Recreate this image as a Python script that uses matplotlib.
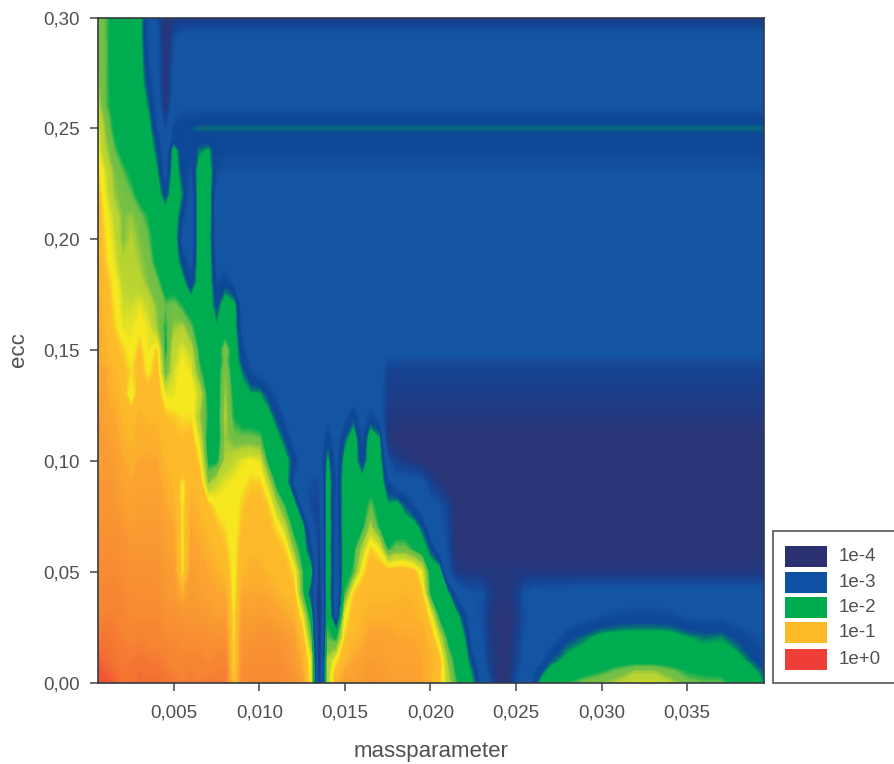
import numpy as np
import matplotlib
matplotlib.use("Agg")
import matplotlib.pyplot as plt
from matplotlib.colors import LinearSegmentedColormap
from matplotlib.patches import Rectangle

plt.rcParams['font.family'] = ['Liberation Sans', 'DejaVu Sans']

# massparameter nodes (units of 1e-3)
mass_left = [0.53, 1, 1.5, 2, 2.5, 3, 3.5, 4,
             4.5, 5, 5.5, 6, 6.5, 7, 7.5, 8,
             8.5, 9, 9.5, 10, 10.5, 11, 11.5, 12,
             12.5, 13, 13.5, 14, 14.5, 15, 15.5, 16,
             16.5, 17, 17.5, 18, 18.5, 19, 19.5, 20,
             20.5, 21, 21.5, 22]
mass_right = [22.5, 23, 23.5, 24, 24.5, 25, 25.5, 26, 26.5, 27, 28, 29, 30, 31, 32,
              33, 34, 35, 36, 37, 38, 39, 39.5]
N = len(mass_left) + len(mass_right)


def pad(prefix, fill):
    return prefix + [fill] * (N - len(prefix))


# log10 of the plotted quantity, one list per ecc row
r000 = [-.1, -.1, -.15, -.25, -.25, -.2, -.2, -.2,
        -.25, -.3, -.35, -.3, -.35, -.3, -.3, -.3,
        -1.1, -.5, -.45, -.45, -.45, -.45, -.5, -.55,
        -.7, -1.25, -3.7, -1.5, -.9, -.7, -.7, -.65,
        -.6, -.65, -.65, -.7, -.7, -.7, -.8, -.85,
        -1.05, -1.45, -1.8, -2,
        -2.25, -2.9, -3.3, -3.9, -3.9, -3.3, -3, -2.7, -2.1, -2, -1.85, -1.7, -1.6, -1.5, -1.35,
        -1.35, -1.5, -1.7, -1.75, -1.75, -2, -2.1, -2.25]
r005 = [-.12, -.15, -.2, -.27, -.27, -.22, -.25, -.25,
        -.3, -.35, -.37, -.35, -.37, -.37, -.35, -.35,
        -1.15, -.52, -.47, -.47, -.47, -.47, -.52, -.6,
        -.78, -1.27, -3.75, -1.5, -1.0, -.8, -.75, -.7,
        -.65, -.67, -.7, -.72, -.72, -.72, -.8, -.85,
        -1.02, -1.5, -1.9, -2.02,
        -2.35, -3, -3.5, -3.95, -3.95, -3.4, -3.05, -2.8, -2.45, -2.1, -2, -1.95, -1.85, -1.7, -1.55,
        -1.55, -1.7, -1.85, -1.9, -1.95, -2, -2.2, -2.4]
r010 = [-.15, -.2, -.25, -.3, -.3, -.25, -.3, -.3,
        -.35, -.4, -.4, -.4, -.4, -.45, -.4, -.4,
        -1.2, -.55, -.5, -.5, -.5, -.5, -.55, -.65,
        -.85, -1.3, -3.8, -1.5, -1.2, -.9, -.8, -.75,
        -.7, -.7, -.75, -.75, -.75, -.75, -.8, -.85,
        -1.0, -1.6, -1.95, -2.05,
        -2.6, -3.1, -3.6, -3.9, -3.9, -3.5, -3.1, -3, -2.8, -2.45, -2.1, -2, -2, -2, -2,
        -2, -2, -2, -2, -2.05, -2.1, -2.45, -2.6]
r020 = [-.3, -.25, -.3, -.35, -.4, -.35, -.4, -.4,
        -.45, -.45, -.5, -.5, -.5, -.55, -.55, -.55,
        -1.2, -.6, -.6, -.55, -.55, -.6, -.65, -.75,
        -.95, -1.7, -3.9, -1.75, -1.9, -1.1, -.9, -.85,
        -.75, -.75, -.75, -.8, -.8, -.8, -.8, -.95,
        -1.35, -1.9, -2, -2.25,
        -3, -3.2, -3.7, -3.9, -3.9, -3.6, -3.2, -3.05, -3, -3, -2.5, -2.3, -2.1, -2.05, -2.05,
        -2.05, -2.05, -2.2, -2.3, -2.25, -2.5, -2.7, -2.8]
r030 = [-.4, -.35, -.35, -.4, -.45, -.45, -.45, -.45,
        -.55, -.55, -.6, -.6, -.6, -.65, -.7, -.7,
        -1.2, -.7, -.7, -.65, -.7, -.75, -.8, -.85,
        -1.25, -2, -3.9, -1.9, -3.0, -1.25, -1.0, -.9,
        -.85, -.85, -.85, -.85, -.85, -.85, -.9, -1.2,
        -1.9, -2, -2.1, -2.6,
        -3.1, -3.3, -3.75, -3.9, -3.9, -3.7, -3.3, -3.1, -3.05, -3, -3, -2.9, -2.75, -2.65, -2.6,
        -2.6, -2.65, -2.8, -2.85, -2.85, -2.95, -3, -3]
r040 = [-.45, -.4, -.4, -.45, -.5, -.5, -.5, -.5,
        -.6, -.65, -.85, -.65, -.7, -.75, -.8, -.8,
        -1.25, -.8, -.8, -.8, -.8, -.85, -.9, -1.0,
        -1.75, -2.5, -3.8, -1.95, -3.2, -1.8, -1.1, -.95,
        -.9, -.9, -.9, -.9, -.88, -.9, -1.05, -1.9,
        -2, -2.15, -2.8, -3.1,
        -3.2, -3.2, -3.6, -3.8, -3.8, -3.6, -3.2, -3.1, -3.05, -3.05, -3.05]
r050 = [-.5, -.45, -.45, -.5, -.55, -.55, -.55, -.55,
        -.65, -.7, -1.2, -.7, -.75, -.8, -.85, -.95,
        -1.25, -.9, -.85, -.85, -.9, -.95, -1.0, -1.15,
        -1.8, -2.1, -3.7, -1.9, -3.1, -1.95, -1.8, -1.2,
        -.95, -.95, -.98, -.95, -.95, -1.0, -1.3, -2,
        -2, -3.2, -3.7, -3.75]
r060 = [-.5, -.5, -.5, -.55, -.6, -.6, -.6, -.6,
        -.7, -.75, -1.2, -.75, -.8, -.85, -.95, -1.05,
        -1.25, -.95, -.9, -.9, -.95, -1.0, -1.1, -1.6,
        -2, -2.6, -3.6, -2, -3, -2, -1.9, -1.5,
        -1.1, -1.25, -1.85, -1.7, -1.7, -1.85, -2, -2.4,
        -3, -3.3]
r070 = [-.55, -.55, -.55, -.6, -.7, -.65, -.65, -.65,
        -.75, -.8, -1.2, -.8, -.85, -.95, -1.05, -1.15,
        -1.25, -1.05, -.95, -.95, -1.0, -1.15, -1.45, -1.95,
        -2.1, -3, -3.5, -2, -2.9, -2, -2, -1.9,
        -1.5, -1.85, -2, -2, -2, -2.05, -2.4, -3.1,
        -3.1, -3.4]
r080 = [-.6, -.6, -.6, -.7, -.75, -.7, -.7, -.7,
        -.8, -.85, -1.2, -.85, -.9, -1.05, -1.2, -1.2,
        -1.25, -1.1, -1, -1, -1.1, -1.5, -1.85, -2.05,
        -2.9, -3.4, -3.4, -2.05, -2.9, -2, -2, -2,
        -1.75, -1.95, -2.2, -2.1, -2.4, -2.7, -3, -3.1,
        -3.2, -3.5]
r090 = [-.65, -.6, -.65, -.75, -.8, -.75, -.75, -.75,
        -.85, -.9, -1.2, -.9, -.95, -1.6, -1.4, -1.3,
        -1.25, -1.2, -1.1, -1.1, -1.4, -1.95, -2, -2.8,
        -3.1, -3.3, -3.3, -2.05, -2.8, -2, -2, -2.1,
        -2, -1.95, -2.6, -3, -3, -3, -3.1, -3.5,
        -3.8]
r100 = [-.7, -.65, -.7, -.8, -.85, -.8, -.8, -.8,
        -.9, -.95, -.95, -.9, -1.15, -1.9, -1.9, -1.5,
        -1.4, -1.3, -1.25, -1.3, -1.9, -2, -2.1, -2.5,
        -2.9, -3, -3, -2.2, -2.9, -2.1, -2, -2.6,
        -2, -2, -3.2, -3.6, -3.7, -3.8, -3.9]
r110 = [-.7, -.7, -.75, -.85, -.9, -.85, -.85, -.85,
        -.95, -1, -1.05, -1, -1.35, -2, -2, -1.55,
        -1.7, -1.7, -1.7, -1.75, -2, -2.1, -2.45, -2.9,
        -3, -3, -3.1, -2.5, -3, -2.4, -2, -2.8,
        -2, -2.2, -3.8]
r120 = [-.7, -.75, -.8, -.9, -.95, -.85, -.9, -.9,
        -1.05, -1.1, -1.15, -1.15, -1.55, -1.85, -2, -1.5,
        -1.85, -2, -2, -2, -2.1, -2.45, -2.8, -3,
        -3, -3, -3, -2.9, -3, -2.8, -2.5, -2.9,
        -2.6, -2.9, -3.7]
r130 = [-.75, -.8, -.85, -.95, -1.3, -.95, -1.0, -.95,
        -1.3, -1.3, -1.2, -1.2, -1.4, -1.95, -2, -1.55,
        -1.9, -2.1, -2.2, -2.2, -2.5, -2.8, -3, -3,
        -3, -3, -3, -3, -3, -3, -3, -3,
        -3, -3]
r140 = [-.75, -.8, -.9, -1, -1.15, -1.0, -1.2, -1.0,
        -1.75, -1.35, -1.2, -1.3, -1.75, -2, -2, -1.6,
        -2, -2.3, -2.7, -2.85, -3, -3, -3, -3,
        -3, -3, -3, -3, -3, -3, -3, -3,
        -3, -3]
r145 = [-.8, -.85, -.95, -1.05, -1.2, -1.0, -1.25, -1.05,
        -1.8, -1.4, -1.25, -1.35, -1.85, -2, -2, -1.7,
        -2, -2.5, -2.85, -3, -3, -3, -3, -3,
        -3, -3, -3, -3, -3, -3, -3, -3,
        -3, -3]
r150 = [-.8, -.85, -1.0, -1.1, -1.25, -1.05, -1.3, -1.1,
        -1.9, -1.4, -1.3, -1.45, -1.9, -2, -2, -1.65,
        -2, -2.6]
r160 = [-.8, -.9, -1.1, -1.3, -1.3, -1.2, -1.3, -1.55,
        -1.85, -1.55, -1.5, -1.75, -2, -2, -2.2, -2,
        -2.05, -2.9]
r170 = [-.8, -.95, -1.15, -1.35, -1.35, -1.3, -1.4, -1.6,
        -1.75, -1.7, -1.85, -2, -2, -2, -2.5, -2,
        -2.1]
r180 = [-.85, -1, -1.2, -1.4, -1.45, -1.45, -1.6, -1.7,
        -2, -2, -2.1, -2.6, -2, -2, -2.7, -2.5,
        -2.8]
r190 = [-.85, -1.1, -1.3, -1.5, -1.45, -1.55, -1.65, -1.95,
        -2, -2, -2.5, -2.9, -2, -2, -2.9, -2.95]
r200 = [-.9, -1.15, -1.35, -1.6, -1.5, -1.6, -1.75, -2,
        -2, -2, -2.9, -3, -2, -2.05]
r210 = [-.95, -1.2, -1.4, -1.6, -1.55, -1.7, -1.85, -2,
        -2, -2, -2.6, -3, -2, -2]
r220 = [-1, -1.3, -1.55, -1.65, -1.75, -1.95, -2, -2.05,
        -2.5, -2, -2.3, -3, -2, -2, -3]
r230 = [-1.1, -1.35, -1.6, -1.75, -1.9, -2, -2, -2.2,
        -2.9, -2, -2.5, -2.8, -2, -2, -2.7]
r240 = [-1.25, -1.5, -1.75, -1.95, -2, -2, -2, -2.4,
        -3, -2.1, -2.6, -2.6, -2.3, -2.2]
r245 = [-1.27, -1.55, -1.82, -1.97, -2, -2, -2.05, -2.5,
        -3.2, -2.6, -2.55, -2.55, -2.55, -2.55]
r250 = [-1.3, -1.6, -1.9, -2, -2, -2, -2.1, -2.7,
        -3.4, -2.6, -2.45, -2.4]
r255 = [-1.35, -1.67, -1.92, -2, -2, -2, -2.2, -2.8,
        -3.6, -2.8]
r260 = [-1.45, -1.75, -1.95, -2, -2, -2, -2.3, -2.9,
        -3.85, -3]
r270 = [-1.55, -1.75, -2, -2, -2, -2.05, -2.5, -3,
        -4, -3.1]
r280 = [-1.6, -1.75, -2, -2, -2, -2.05, -2.7, -3,
        -4, -3.2]
r290 = [-1.6, -1.75, -2, -2, -2.1, -2.1, -2.8, -3.1,
        -4, -3.3]
r300 = [-1.65, -1.75, -2, -2, -2.1, -2.1, -2.8, -3.3,
        -3.9, -3.7]

ecc = [0, .005, .01, .02, .03, .04, .05, .06, .07, .08, .09, .10, .11, .12, .13, .14, .145,
       .15, .16, .17, .18, .19, .20, .21, .22, .23, .24, .245, .25, .255, .26, .27, .28, .29, .30]
rows = [r000, r005, r010, r020, r030, pad(r040, -3), pad(r050, -3.75), pad(r060, -4), pad(r070, -4),
        pad(r080, -4), pad(r090, -4), pad(r100, -4), pad(r110, -3.95), pad(r120, -3.75), pad(r130, -3.6),
        pad(r140, -3.5), pad(r145, -3.35), pad(r150, -3), pad(r160, -3), pad(r170, -3), pad(r180, -3),
        pad(r190, -3), pad(r200, -3), pad(r210, -3), pad(r220, -2.9), pad(r230, -2.78), pad(r240, -2.6),
        pad(r245, -2.55), pad(r250, -2.33), pad(r255, -2.6), pad(r260, -2.85), pad(r270, -3), pad(r280, -3),
        pad(r290, -3.05), pad(r300, -3.65)]
bad = [i for i, r in enumerate(rows) if len(r) != N]
if bad:
    raise SystemExit(f"bad rows {bad} {[len(rows[i]) for i in bad]} N={N}")

# colour anchors along the log10 scale
anchor_values = [-5, -3.9, -3.7, -3.45, -3.15, -2.8, -2.6, -2.42, -2.28, -2.2, -1.85, -1.72, -1.6, -1.5,
                 -1.38, -1.25, -1.17, -1.05, -.9, -.78, -.55, -.35, -.2, -.05, 1]
anchor_colors = ['#2a3578', '#2a3578', '#203a82', '#144494', '#1455a3', '#1455a3', '#0e4898', '#0c4896',
                 '#06786e', '#00ac50', '#00ac50', '#6ebe46', '#78c044', '#b4d232', '#bed630', '#f5e81e',
                 '#f5e81e', '#fdbc2a', '#fdb92a', '#fba530', '#f89332', '#f68232', '#f36e32', '#ee4634',
                 '#ee4634']
legend_labels = ['1e-4', '1e-3', '1e-2', '1e-1', '1e+0']
legend_colors = ['#2a3070', '#0f52a5', '#00aa4e', '#fdbc26', '#ee3e37']

norm_pos = [(v + 5) / 6 for v in anchor_values]
cmap = LinearSegmentedColormap.from_list('stab', list(zip(norm_pos, anchor_colors)), N=600)

W, H = 894, 764
fig = plt.figure(figsize=(W / 100, H / 100), dpi=100, facecolor='white')
ax = fig.add_axes([97.5 / W, (H - 682.5) / H, (764 - 97.5) / W, (682.5 - 17.5) / H])
mass = np.array(mass_left + mass_right) * 1e-3
ax.contourf(mass, ecc, np.array(rows), levels=np.linspace(-5, 1, 301), cmap=cmap, vmin=-5, vmax=1)
ax.set_xlim(0.00053, 0.0395)
ax.set_ylim(0, 0.30)

txt = '#505050'
xt = [.005, .01, .015, .02, .025, .03, .035]
yt = [0, .05, .10, .15, .20, .25, .30]
ax.set_xticks(xt, [f'{v:.3f}'.replace('.', ',') for v in xt])
ax.set_yticks(yt, [f'{v:.2f}'.replace('.', ',') for v in yt])
ax.tick_params(length=5.5, width=1.1, color='#444444', labelcolor=txt, labelsize=13.5)
ax.tick_params(axis='x', pad=10)
ax.tick_params(axis='y', pad=7)
for s in ax.spines.values():
    s.set_color('#333a44')
    s.set_linewidth(1.2)
ax.set_xlabel('massparameter', fontsize=16, color=txt)
ax.xaxis.set_label_coords(0.5, -0.088)
ax.set_ylabel('ecc', fontsize=16, color=txt)
ax.yaxis.set_label_coords(-0.1028, 0.5)

# legend panel
fig.add_artist(Rectangle((773 / W, (H - 683) / H), 130 / W, 152 / H, transform=fig.transFigure,
                         facecolor='white', edgecolor='#555555', linewidth=1.2))
tops = [546, 572, 597, 622, 649]
for t, c, lab in zip(tops, legend_colors, legend_labels):
    fig.add_artist(Rectangle((785 / W, (H - t - 20.5) / H), 42 / W, 20.5 / H, transform=fig.transFigure,
                             facecolor=c, edgecolor='none'))
    fig.text(839 / W, (H - t - 10.5) / H, lab, fontsize=13.5, color=txt, va='center', ha='left')

fig.savefig('out.png', dpi=100)
